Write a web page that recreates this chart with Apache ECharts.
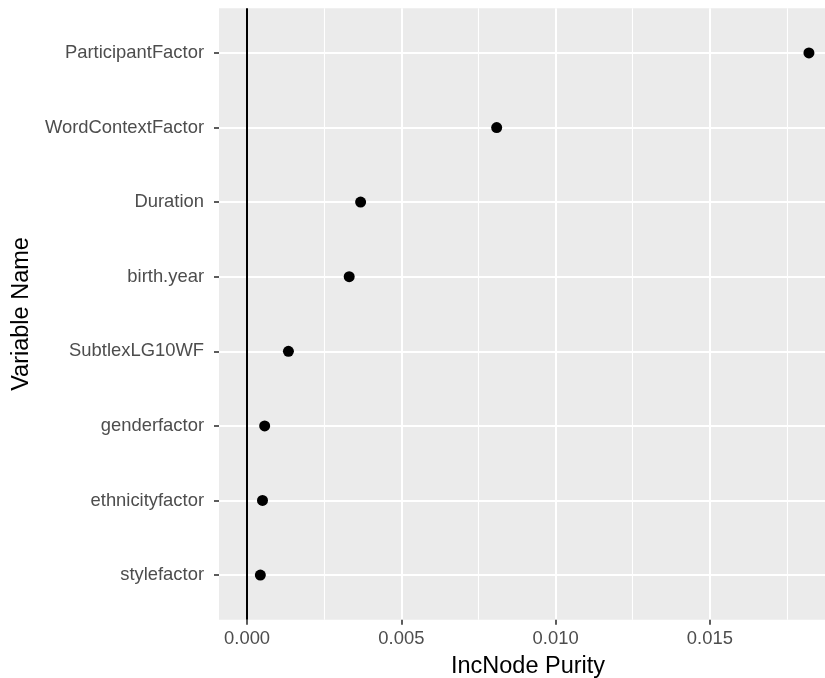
<!DOCTYPE html>
<html>
<head>
<meta charset="utf-8">
<title>IncNode Purity by variable</title>
<script src="https://cdn.jsdelivr.net/npm/echarts@6/dist/echarts.min.js"></script>
<style>
  html, body { margin: 0; padding: 0; background: #ffffff; }
  #chart { width: 825px; height: 678px; }
</style>
</head>
<body>
<div id="chart"></div>
<script>
// Variables, listed bottom to top on the y axis
const categories = [
  'stylefactor',
  'ethnicityfactor',
  'genderfactor',
  'SubtlexLG10WF',
  'birth.year',
  'Duration',
  'WordContextFactor',
  'ParticipantFactor'
];
// Increase in node purity for each variable
const purity = [0.00043, 0.00050, 0.00057, 0.00134, 0.00331, 0.00368, 0.00809, 0.01821];

// Axis tick positions
const xMajorTicks = [0, 0.005, 0.010, 0.015];
const xMinorTicks = [0.0025, 0.0075, 0.0125, 0.0175];
const yTicks = categories.map((_, i) => i + 1);

const FONT = '"Liberation Sans", Arial, Helvetica, sans-serif';

const points = purity.map((v, i) => [v, i + 1]);

const chart = echarts.init(document.getElementById('chart'), null, { renderer: 'canvas' });

chart.setOption({
  animation: false,
  backgroundColor: '#ffffff',
  grid: {
    left: 219,
    top: 8.2,
    width: 618,
    height: 611.6,
    outerBoundsMode: 'none',
    containLabel: false,
    show: true,
    backgroundColor: '#EBEBEB',
    borderWidth: 0
  },
  xAxis: [
    {
      type: 'value',
      min: -0.00091,
      max: 0.01912,
      name: 'IncNode Purity',
      nameLocation: 'middle',
      nameGap: 35,
      nameTextStyle: { color: '#000000', fontSize: 23.5, fontFamily: FONT },
      axisLine: { show: false, onZero: false },
      axisTick: {
        show: true,
        customValues: xMajorTicks,
        length: 5,
        lineStyle: { color: '#333333', width: 1.6 }
      },
      axisLabel: {
        customValues: xMajorTicks,
        margin: 10,
        color: '#4D4D4D',
        fontSize: 18.4,
        fontFamily: FONT,
        formatter: v => v.toFixed(3)
      },
      splitLine: { show: true, lineStyle: { color: '#FFFFFF', width: 2 } }
    },
    {
      type: 'value',
      min: -0.00091,
      max: 0.01912,
      position: 'bottom',
      axisLine: { show: false, onZero: false },
      axisTick: { show: false, customValues: xMinorTicks },
      axisLabel: { show: false, customValues: xMinorTicks },
      splitLine: { show: true, lineStyle: { color: '#FFFFFF', width: 1.1 } }
    }
  ],
  yAxis: {
    type: 'value',
    min: 0.4,
    max: 8.6,
    name: 'Variable Name',
    nameLocation: 'middle',
    nameGap: 180,
    nameTextStyle: { color: '#000000', fontSize: 23.5, fontFamily: FONT },
    axisLine: { show: false, onZero: false },
    axisTick: {
      show: true,
      customValues: yTicks,
      length: 5,
      lineStyle: { color: '#333333', width: 1.6 }
    },
    axisLabel: {
      customValues: yTicks,
      margin: 15,
      color: '#4D4D4D',
      fontSize: 18.4,
      fontFamily: FONT,
      formatter: v => categories[Math.round(v) - 1] || ''
    },
    splitLine: { show: true, lineStyle: { color: '#FFFFFF', width: 2 } }
  },
  series: [
    {
      type: 'scatter',
      xAxisIndex: 0,
      data: points,
      symbol: 'circle',
      symbolSize: 11,
      itemStyle: { color: '#000000', opacity: 1 },
      markLine: {
        silent: true,
        symbol: 'none',
        label: { show: false },
        lineStyle: { color: '#000000', width: 2, type: 'solid', opacity: 1 },
        data: [{ xAxis: 0 }]
      }
    }
  ]
});
</script>
</body>
</html>
